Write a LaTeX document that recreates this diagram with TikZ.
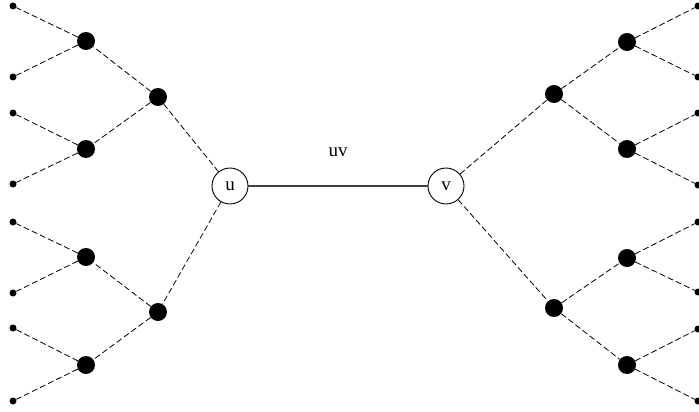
\documentclass[tikz,border=0pt]{standalone}
\usepackage{fontspec}
\setmainfont{Liberation Serif}
\begin{document}
\begin{tikzpicture}[x=1pt,y=-1pt,
  big/.style={circle,fill=black,inner sep=0pt,minimum size=18pt},
  leaf/.style={circle,fill=black,inner sep=0pt,minimum size=7pt},
  endv/.style={circle,draw=black,line width=0.9pt,fill=white,inner sep=0pt,minimum size=36pt,font=\fontsize{19}{22}\selectfont},
  dedge/.style={draw=black,line width=0.8pt,dash pattern=on 6pt off 3pt},
  sedge/.style={draw=black!75,line width=1.2pt}]
\useasboundingbox (0,0) rectangle (699,412);
% edges first
\coordinate (uc) at (230,186);
\coordinate (vc) at (446,186);
% center
\node[endv] (u) at (uc) {u};
\node[endv] (v) at (vc) {v};
\draw[sedge] (u) -- (v);
\node[font=\fontsize{19}{22}\selectfont] (uvl) at (338,152) {uv};
% left tree
\node[big] (la) at (158,97) {};
\node[big] (lb) at (158,312) {};
\node[big] (la1) at (86,41) {};
\node[big] (la2) at (86,149) {};
\node[big] (lb1) at (86,257) {};
\node[big] (lb2) at (86,365) {};
\node[leaf] (l1) at (13,6) {};
\node[leaf] (l2) at (13,77) {};
\node[leaf] (l3) at (13,113) {};
\node[leaf] (l4) at (13,184) {};
\node[leaf] (l5) at (13,222) {};
\node[leaf] (l6) at (13,293) {};
\node[leaf] (l7) at (13,328) {};
\node[leaf] (l8) at (13,401) {};
% right tree
\node[big] (ra) at (554,94) {};
\node[big] (rb) at (554,308) {};
\node[big] (ra1) at (627,42) {};
\node[big] (ra2) at (627,149) {};
\node[big] (rb1) at (627,258) {};
\node[big] (rb2) at (627,365) {};
\node[leaf] (r1) at (698,6) {};
\node[leaf] (r2) at (698,77) {};
\node[leaf] (r3) at (698,113) {};
\node[leaf] (r4) at (698,185) {};
\node[leaf] (r5) at (698,222) {};
\node[leaf] (r6) at (698,292) {};
\node[leaf] (r7) at (698,329) {};
\node[leaf] (r8) at (698,401) {};
% edges
\path[dedge] (u) -- (la) (u) -- (lb)
  (la) -- (la1) (la) -- (la2) (lb) -- (lb1) (lb) -- (lb2)
  (la1) -- (l1) (la1) -- (l2) (la2) -- (l3) (la2) -- (l4)
  (lb1) -- (l5) (lb1) -- (l6) (lb2) -- (l7) (lb2) -- (l8);
\path[dedge] (v) -- (ra) (v) -- (rb)
  (ra) -- (ra1) (ra) -- (ra2) (rb) -- (rb1) (rb) -- (rb2)
  (ra1) -- (r1) (ra1) -- (r2) (ra2) -- (r3) (ra2) -- (r4)
  (rb1) -- (r5) (rb1) -- (r6) (rb2) -- (r7) (rb2) -- (r8);
\end{tikzpicture}
\end{document}
